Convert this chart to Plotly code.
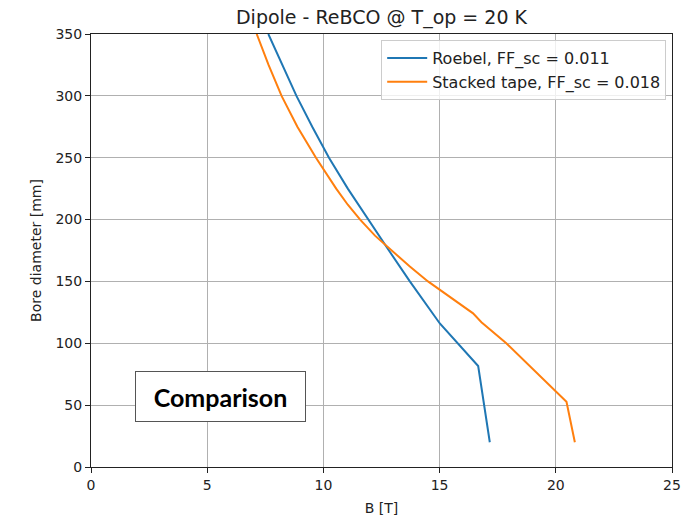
import plotly.graph_objects as go

# Bore diameter vs. peak field for a ReBCO dipole at 20 K
roebel_b = [7.63, 8.22, 8.84, 9.52, 10.24, 11.05, 11.92, 12.82, 13.72, 15.01, 16.66, 17.16]
roebel_d = [350, 325, 300, 275, 250, 225, 200, 175, 150, 116, 81.6, 20]

stacked_b = [7.13, 7.64, 8.2, 8.88, 9.68, 10.55, 11.05, 11.58, 12.22, 12.93, 13.72, 14.5,
             14.98, 16.44, 16.8, 17.87, 20.46, 20.82]
stacked_d = [350, 325, 300, 275, 250, 225, 212, 200, 187, 175, 162, 150,
             143.6, 124.2, 117, 100, 52.8, 20]

series_names = ["Roebel, FF_sc = 0.011", "Stacked tape, FF_sc = 0.018"]
series_colors = ["#1f77b4", "#ff7f0e"]

x_ticks = [0, 5, 10, 15, 20, 25]
y_ticks = [0, 50, 100, 150, 200, 250, 300, 350]

FONT = "DejaVu Sans"
INK = "#222222"

fig = go.Figure()
fig.add_trace(go.Scatter(x=roebel_b, y=roebel_d, mode="lines", name=series_names[0],
                         line=dict(color=series_colors[0], width=2)))
fig.add_trace(go.Scatter(x=stacked_b, y=stacked_d, mode="lines", name=series_names[1],
                         line=dict(color=series_colors[1], width=2)))

axis_common = dict(
    showgrid=True, gridcolor="#b0b0b0", gridwidth=1,
    showline=True, linecolor=INK, linewidth=1, mirror=True,
    ticks="outside", ticklen=5, tickcolor=INK, tickwidth=1,
    tickfont=dict(family=FONT, size=14, color=INK),
    zeroline=False, automargin=False,
)

fig.update_xaxes(range=[0, 25], tickvals=x_ticks,
                 title=dict(text="B [T]", font=dict(family=FONT, size=14, color=INK), standoff=11),
                 **axis_common)
fig.update_yaxes(range=[0, 350], tickvals=y_ticks,
                 title=dict(text="Bore diameter [mm]", font=dict(family=FONT, size=14, color=INK), standoff=10),
                 **axis_common)

fig.add_annotation(
    x=5.57, y=57, xref="x", yref="y",
    text="<b>Comparison</b>", showarrow=False,
    font=dict(family="Lato", size=25, color="black"),
    bgcolor="white", bordercolor="#555555", borderwidth=1,
    width=165, height=45, borderpad=2,
)

fig.update_layout(
    width=686, height=516,
    margin=dict(l=91, r=14, t=34, b=49, autoexpand=False),
    paper_bgcolor="white", plot_bgcolor="white",
    title=dict(text="Dipole - ReBCO @ T_op = 20 K", x=(91 + 672) / 2 / 686, xanchor="center",
               y=1 - 17 / 516, yanchor="middle",
               font=dict(family=FONT, size=19, color=INK)),
    legend=dict(x=0.99, y=0.986, xanchor="right", yanchor="top",
                bgcolor="rgba(255,255,255,0.8)", bordercolor="#cccccc", borderwidth=1,
                font=dict(family=FONT, size=16, color=INK),
                tracegroupgap=0, itemwidth=40),
    showlegend=True,
)

fig.write_html("out.html")
